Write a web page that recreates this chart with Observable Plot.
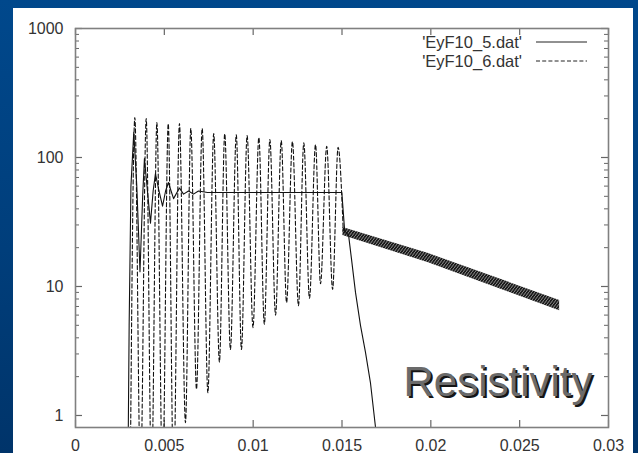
<!DOCTYPE html>
<html>
<head>
<meta charset="utf-8">
<script src="https://cdn.jsdelivr.net/npm/d3@7"></script>
<script src="https://cdn.jsdelivr.net/npm/@observablehq/plot@0.6"></script>
<style>
  html, body { margin: 0; padding: 0; }
  body {
    width: 638px; height: 453px; overflow: hidden; position: relative;
    background: linear-gradient(to bottom, #00488c 0%, #003e7b 55%, #00346a 100%);
  }
  #chart { position: absolute; left: 13px; top: 8px; width: 620px; height: 445px; background: #fff; }
  .resist text { text-shadow: 2px 2px 0 #151515; }
</style>
</head>
<body>
<div id="chart"></div>
<script>
// ---- data ----
// 'EyF10_5.dat' (solid): damped oscillation, plateau, then fast decay
const solidX = [0.00296, 0.00302, 0.00312, 0.00328, 0.00345, 0.00363, 0.00378, 0.00388, 0.00405, 0.00422,
                0.00437, 0.00450, 0.00470, 0.00490, 0.00507, 0.00523, 0.00538, 0.00552, 0.00585, 0.00608,
                0.00636, 0.00664, 0.00692, 0.00743, 0.01499, 0.01515, 0.01537, 0.01553, 0.01576, 0.01604,
                0.01632, 0.01660, 0.01689, 0.01700];
const solidY = [0.5, 5, 60, 157, 60, 13, 50, 98, 55, 31,
                55, 75, 55, 42, 55, 64, 55, 48, 58, 52,
                55, 52, 55, 53.5, 53.5, 27, 25, 16.5, 9, 5,
                3.1, 1.8, 0.8, 0.6];

// 'EyF10_6.dat' (dashed): sustained oscillation (peaks / troughs)
const peakX = [0.00334, 0.00398, 0.00458, 0.00522, 0.00585, 0.00649, 0.00713, 0.00778, 0.00840, 0.00905,
               0.00966, 0.01032, 0.01094, 0.01158, 0.01221, 0.01285, 0.01351, 0.01414, 0.01478];
const peakY = [204, 200, 187, 183, 183, 168, 168, 153, 153, 150,
               148, 143, 138, 135, 133, 130, 126, 122, 120];
const troughX = [0.00366, 0.00428, 0.00490, 0.00552, 0.00619, 0.00681, 0.00745, 0.00810, 0.00872, 0.00934,
                 0.00999, 0.01063, 0.01126, 0.01188, 0.01255, 0.01317, 0.01379, 0.01447];
const troughY = [0.3, 0.3, 0.3, 0.3, 0.88, 1.6, 1.5, 2.6, 3.25, 3.25,
                 4.8, 5.1, 6.0, 7.5, 7.1, 8.1, 10.5, 9.5];
const dashStart = [0.00308, 0.3];
const dashEnd = [0.01507, 27];

// dense fast-oscillating band of 'EyF10_6.dat' after x = 0.015
const bandX  = [0.01505, 0.01987, 0.02725];
const bandHi = [28.7, 18.0, 7.8];
const bandLo = [24.8, 15.3, 6.5];

const xTicks = [0, 0.005, 0.01, 0.015, 0.02, 0.025, 0.03];
const yTicks = [1, 10, 100, 1000];
const yMinor = [2,3,4,5,6,7,8,9, 20,30,40,50,60,70,80,90, 200,300,400,500,600,700,800,900];
const legendLabels = ["'EyF10_5.dat'", "'EyF10_6.dat'"];
const annotation = "Resistivity";

// ---- build tables ----
const solid = solidX.map((x, i) => ({x, y: solidY[i]}));
const dashed = [{x: dashStart[0], y: dashStart[1]}];
peakX.forEach((x, i) => {
  dashed.push({x, y: peakY[i]});
  if (i < troughX.length) dashed.push({x: troughX[i], y: troughY[i]});
});
dashed.push({x: dashEnd[0], y: dashEnd[1]});
const band = bandX.map((x, i) => ({x, lo: bandLo[i], hi: bandHi[i]}));

const W = 620, H = 445;
const mL = 62, mR = 25, mT = 20, mB = 26;
const fw = W - mL - mR, fh = H - mT - mB;
const font = "'Liberation Sans', Arial, Helvetica, sans-serif";

function legendMark(index, scales, values, dims) {
  const g = d3.create("svg:g");
  const xr = dims.width - dims.marginRight;
  const rows = [dims.marginTop + 14, dims.marginTop + 33];
  legendLabels.forEach((lab, i) => {
    g.append("text")
      .attr("x", xr - 86).attr("y", rows[i]).attr("dy", "0.35em")
      .attr("text-anchor", "end").attr("fill", "#333")
      .attr("font-size", 16.5).attr("font-family", font)
      .text(lab);
    g.append("line")
      .attr("x1", xr - 72).attr("x2", xr - 21)
      .attr("y1", rows[i]).attr("y2", rows[i])
      .attr("stroke", "#222").attr("stroke-width", 1)
      .attr("stroke-dasharray", i === 0 ? null : "4,2.2");
  });
  return g.node();
}

const chart = Plot.plot({
  width: W, height: H,
  marginLeft: mL, marginRight: mR, marginTop: mT, marginBottom: mB,
  style: {fontFamily: font, fontSize: "16px", color: "#333", background: "#fff"},
  x: {domain: [0, 0.03], ticks: xTicks, tickSize: 0, tickPadding: 12, label: null,
      tickFormat: d => String(d)},
  y: {type: "log", domain: [0.807, 1000], ticks: yTicks, tickSize: 0, tickPadding: 12, label: null,
      tickFormat: d => String(d)},
  marks: [
    // inward tick marks on all four sides
    Plot.ruleX(xTicks, {x: d => d, insetTop: fh - 7, stroke: "#666", strokeWidth: 1.2}),
    Plot.ruleX(xTicks, {x: d => d, insetBottom: fh - 7, stroke: "#666", strokeWidth: 1.2}),
    Plot.ruleY(yTicks, {y: d => d, insetRight: fw - 7, stroke: "#666", strokeWidth: 1.2}),
    Plot.ruleY(yTicks, {y: d => d, insetLeft: fw - 7, stroke: "#666", strokeWidth: 1.2}),
    Plot.ruleY(yMinor, {y: d => d, insetRight: fw - 4, stroke: "#666", strokeWidth: 1}),
    Plot.ruleY(yMinor, {y: d => d, insetLeft: fw - 4, stroke: "#666", strokeWidth: 1}),
    // data
    Plot.areaY(band, {x: "x", y1: "lo", y2: "hi", fill: "url(#bandHatch)", clip: true}),
    Plot.line(dashed, {x: "x", y: "y", stroke: "#111", strokeWidth: 1.1,
      strokeDasharray: "4,2.5", curve: "monotone-x", clip: true}),
    Plot.line(solid, {x: "x", y: "y", stroke: "#111", strokeWidth: 1.1, clip: true}),
    Plot.frame({stroke: "#808080", strokeWidth: 1.6}),
    legendMark,
    Plot.text([annotation], {frameAnchor: "bottom-right", textAnchor: "end", lineAnchor: "bottom",
      dx: -16, dy: -32, fontSize: 42, fill: "#6a6a6a", fontFamily: font, className: "resist"})
  ]
});

// hatch pattern that imitates the dense, noisy oscillation band
const defs = d3.select(chart).insert("defs", ":first-child");
const pat = defs.append("pattern").attr("id", "bandHatch")
  .attr("patternUnits", "userSpaceOnUse").attr("width", 3).attr("height", 4);
pat.append("rect").attr("width", 3).attr("height", 4).attr("fill", "#1c1c1c");
pat.append("path").attr("d", "M0,4 L3,0").attr("stroke", "#bdbdbd").attr("stroke-width", 0.7);

document.getElementById("chart").appendChild(chart);
</script>
</body>
</html>
